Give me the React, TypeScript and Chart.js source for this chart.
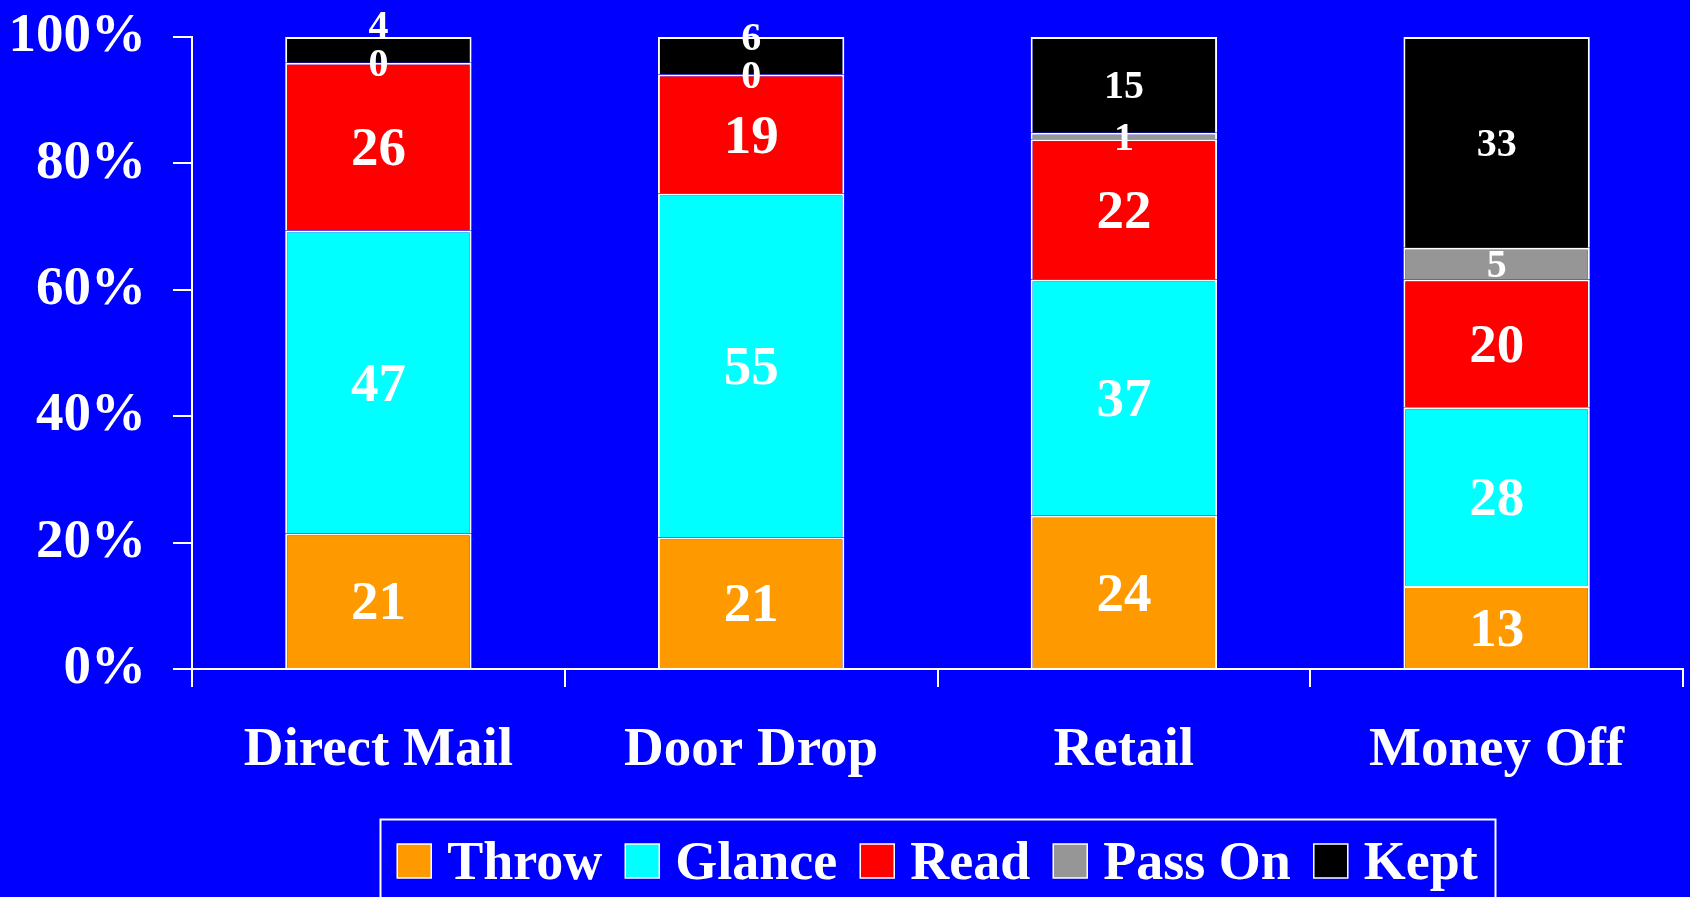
import React, { useEffect, useRef } from 'react';
import { Chart, registerables } from 'chart.js';

Chart.register(...registerables);

const categories = ['Direct Mail', 'Door Drop', 'Retail', 'Money Off'];
const seriesNames = ['Throw', 'Glance', 'Read', 'Pass On', 'Kept'];
const throwValues = [21, 21, 24, 13];
const glanceValues = [47, 55, 37, 28];
const readValues = [26, 19, 22, 20];
const passOnValues = [0, 0, 1, 5];
const keptValues = [4, 6, 15, 33];
const yTickValues = [0, 20, 40, 60, 80, 100];

const seriesValues = [throwValues, glanceValues, readValues, passOnValues, keptValues];
const seriesColors = ['#FF9900', '#00FFFF', '#FF0000', '#969696', '#000000'];
const FONT = "'Liberation Serif', 'Times New Roman', Times, serif";
const BIG = 55;
const SMALL = 40;
const LEGEND_FONT = 54;

const totals = categories.map((_, i) => seriesValues.reduce((s, arr) => s + arr[i], 0));

const valueLabels = {
  id: 'valueLabels',
  afterDatasetsDraw(chart: any) {
    const ctx = chart.ctx;
    ctx.save();
    ctx.fillStyle = '#FFFFFF';
    ctx.textAlign = 'center';
    ctx.textBaseline = 'alphabetic';
    const centers = chart.data.datasets.map((_: any, di: number) =>
      chart.getDatasetMeta(di).data.map((bar: any) => (bar.y + bar.base) / 2)
    );
    chart.data.datasets.forEach((ds: any, di: number) => {
      const meta = chart.getDatasetMeta(di);
      const size = di >= 3 ? SMALL : BIG;
      ctx.font = `bold ${size}px ${FONT}`;
      meta.data.forEach((bar: any, i: number) => {
        let y = centers[di][i];
        if (di === 4) {
          const below = centers[3][i];
          if (below - y < SMALL) y = below - 38;
        }
        ctx.fillText(String(ds.rawValues[i]), bar.x, y + 0.34 * size);
      });
    });
    ctx.restore();
  },
};

const legendBox = {
  id: 'legendBox',
  afterDraw(chart: any) {
    const ctx = chart.ctx;
    ctx.save();
    ctx.font = `bold ${LEGEND_FONT}px ${FONT}`;
    const sw = 34;
    const gapText = 16;
    const gapItem = 23;
    const padX = 17;
    const ds = chart.data.datasets;
    const widths = ds.map((d: any) => ctx.measureText(d.label).width);
    const total = widths.reduce((s: number, w: number) => s + sw + gapText + w, 0) + gapItem * (ds.length - 1);
    const cx = (chart.chartArea.left + chart.chartArea.right) / 2;
    let x = cx - total / 2;
    const boxTop = chart.height - 78;
    const cy = boxTop + 42;
    ctx.strokeStyle = '#FFFFFF';
    ctx.lineWidth = 2;
    ctx.strokeRect(Math.round(x - padX) + 0.5, boxTop + 0.5, Math.round(total + 2 * padX), chart.height);
    ds.forEach((d: any, i: number) => {
      ctx.fillStyle = d.backgroundColor;
      ctx.fillRect(x, cy - sw / 2, sw, sw);
      ctx.lineWidth = 1.5;
      ctx.strokeStyle = '#FFFFFF';
      ctx.strokeRect(x, cy - sw / 2, sw, sw);
      ctx.fillStyle = '#FFFFFF';
      ctx.textAlign = 'left';
      ctx.textBaseline = 'alphabetic';
      ctx.fillText(d.label, x + sw + gapText, cy + 0.331 * LEGEND_FONT);
      x += sw + gapText + widths[i] + gapItem;
    });
    ctx.restore();
  },
};

export default function App() {
  const ref = useRef<HTMLCanvasElement | null>(null);

  useEffect(() => {
    if (!ref.current) return;
    const datasets = seriesNames.map((name, si) => ({
      label: name,
      data: seriesValues[si].map((v, i) => (v / totals[i]) * 100),
      rawValues: seriesValues[si],
      backgroundColor: seriesColors[si],
      borderColor: '#FFFFFF',
      borderWidth: 2,
      barPercentage: 0.5,
      categoryPercentage: 1,
    }));
    const chart = new Chart(ref.current, {
      type: 'bar',
      data: { labels: categories, datasets: datasets as any },
      options: {
        responsive: false,
        animation: false,
        devicePixelRatio: 1,
        layout: { padding: { top: 37, right: 7, left: 0, bottom: 108 } },
        plugins: {
          legend: { display: false },
          tooltip: { enabled: false },
          title: { display: false },
        },
        scales: {
          x: {
            stacked: true,
            offset: true,
            afterFit: (s: any) => { s.height = 120; s.paddingLeft = 0; s.paddingRight = 0; },
            grid: {
              offset: true,
              drawOnChartArea: false,
              drawTicks: true,
              tickLength: 18,
              color: '#FFFFFF',
              lineWidth: 2,
            },
            border: { display: true, color: '#FFFFFF', width: 2 },
            ticks: {
              color: '#FFFFFF',
              font: { family: FONT, size: BIG, weight: 'bold' },
              padding: 31,
              maxRotation: 0,
              autoSkip: false,
            },
          },
          y: {
            stacked: true,
            min: 0,
            max: 100,
            afterFit: (s: any) => { s.width = 192; s.paddingTop = 0; s.paddingBottom = 0; },
            afterBuildTicks: (s: any) => { s.ticks = yTickValues.map((v) => ({ value: v })); },
            grid: {
              drawOnChartArea: false,
              drawTicks: true,
              tickLength: 19,
              color: '#FFFFFF',
              lineWidth: 2,
            },
            border: { display: true, color: '#FFFFFF', width: 2 },
            ticks: {
              color: '#FFFFFF',
              font: { family: FONT, size: BIG, weight: 'bold' },
              padding: 27,
              callback: (v: any) => `${v}%`,
            },
          },
        },
      },
      plugins: [valueLabels, legendBox],
    });
    return () => chart.destroy();
  }, []);

  return (
    <div
      style={{
        position: 'fixed',
        left: 0,
        top: 0,
        width: 1690,
        height: 897,
        background: '#0000FF',
        overflow: 'hidden',
      }}
    >
      <canvas ref={ref} width={1690} height={897} style={{ display: 'block', width: 1690, height: 897 }} />
    </div>
  );
}
